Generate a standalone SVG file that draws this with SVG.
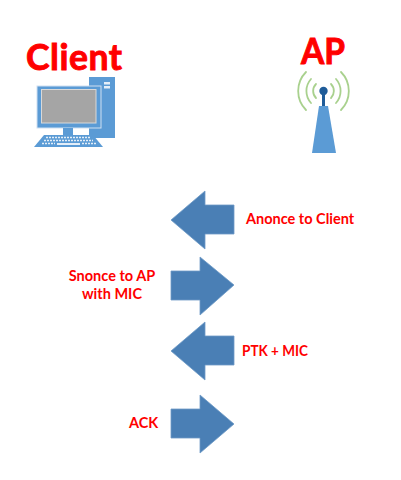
<svg xmlns="http://www.w3.org/2000/svg" width="401" height="480" viewBox="0 0 401 480">
<style>
.t{font-family:"Lato","Liberation Sans",sans-serif;font-weight:700;fill:#f00}
.l{font-size:14.5px}
.h{font-size:35.5px;stroke:#f00;stroke-width:.9}
.a{fill:#4a7fb5;stroke:#6f9ac6;stroke-width:.8}
.b{fill:#5b9bd5}
.w{fill:none;stroke:#a9d18e;stroke-width:1.8;stroke-linecap:round}
</style>
<rect width="401" height="480" fill="#fff"/>
<g id="client">
<text class="t h" x="26" y="70" textLength="96" lengthAdjust="spacing">Client</text>
<rect class="b" x="89" y="77" width="26" height="61"/>
<rect x="104" y="82" width="6" height="2.5" fill="#e4eef8"/>
<rect x="104" y="86" width="6" height="2.5" fill="#e4eef8"/>
<rect class="b" x="37" y="86" width="64" height="42" stroke="#cfe0f2" stroke-width="1"/>
<rect x="41.500" y="89.500" width="54.500" height="33.500" fill="#a5a5a5" stroke="#d9d9d9" stroke-width="1"/>
<rect class="b" x="63" y="128" width="10" height="7"/>
<polygon class="b" points="44,135 93,135 103,147 34,147"/>
<path d="M46 137.500H91M44 140.500H93M42 143.500H55M82 143.500H96" stroke="#e4eef8" stroke-width="1.500" stroke-dasharray="2 1" fill="none"/>
<rect x="57" y="143" width="23" height="2" fill="#e4eef8"/>
</g>
<g id="ap">
<text class="t h" x="301" y="64" textLength="44" lengthAdjust="spacingAndGlyphs">AP</text>
<path class="w" d="M306 72A27 27 0 0 0 306 110M341 72A27 27 0 0 1 341 110M311 79A18 18 0 0 0 311 103M336 79A18 18 0 0 1 336 103M316 84A10 10 0 0 0 316 98M331 84A10 10 0 0 1 331 98"/>
<polygon class="b" points="319,106 328,106 336,153 312,153"/>
<rect x="322" y="91" width="3" height="15" fill="#1f5c99"/>
<circle cx="323.500" cy="91" r="4.200" fill="#1f5c99"/>
</g>
<g id="connectors">
<polygon class="a" points="171,220 205,191 205,205 234,205 234,234 205,234 205,249"/>
<polygon class="a" points="234,285 200,257 200,271 171,271 171,300 200,300 200,315"/>
<polygon class="a" points="171,351 205,322 205,336 234,336 234,365 205,365 205,380"/>
<polygon class="a" points="234,424 200,395 200,409 171,409 171,438 200,438 200,453"/>
</g>
<g id="labels">
<text class="t l" x="246" y="224">Anonce to Client</text>
<text class="t l" x="112" y="281" text-anchor="middle">Snonce to AP</text>
<text class="t l" x="112" y="299" text-anchor="middle">with MIC</text>
<text class="t l" x="242" y="356" textLength="66" lengthAdjust="spacingAndGlyphs">PTK + MIC</text>
<text class="t l" x="129" y="428">ACK</text>
</g>
</svg>
